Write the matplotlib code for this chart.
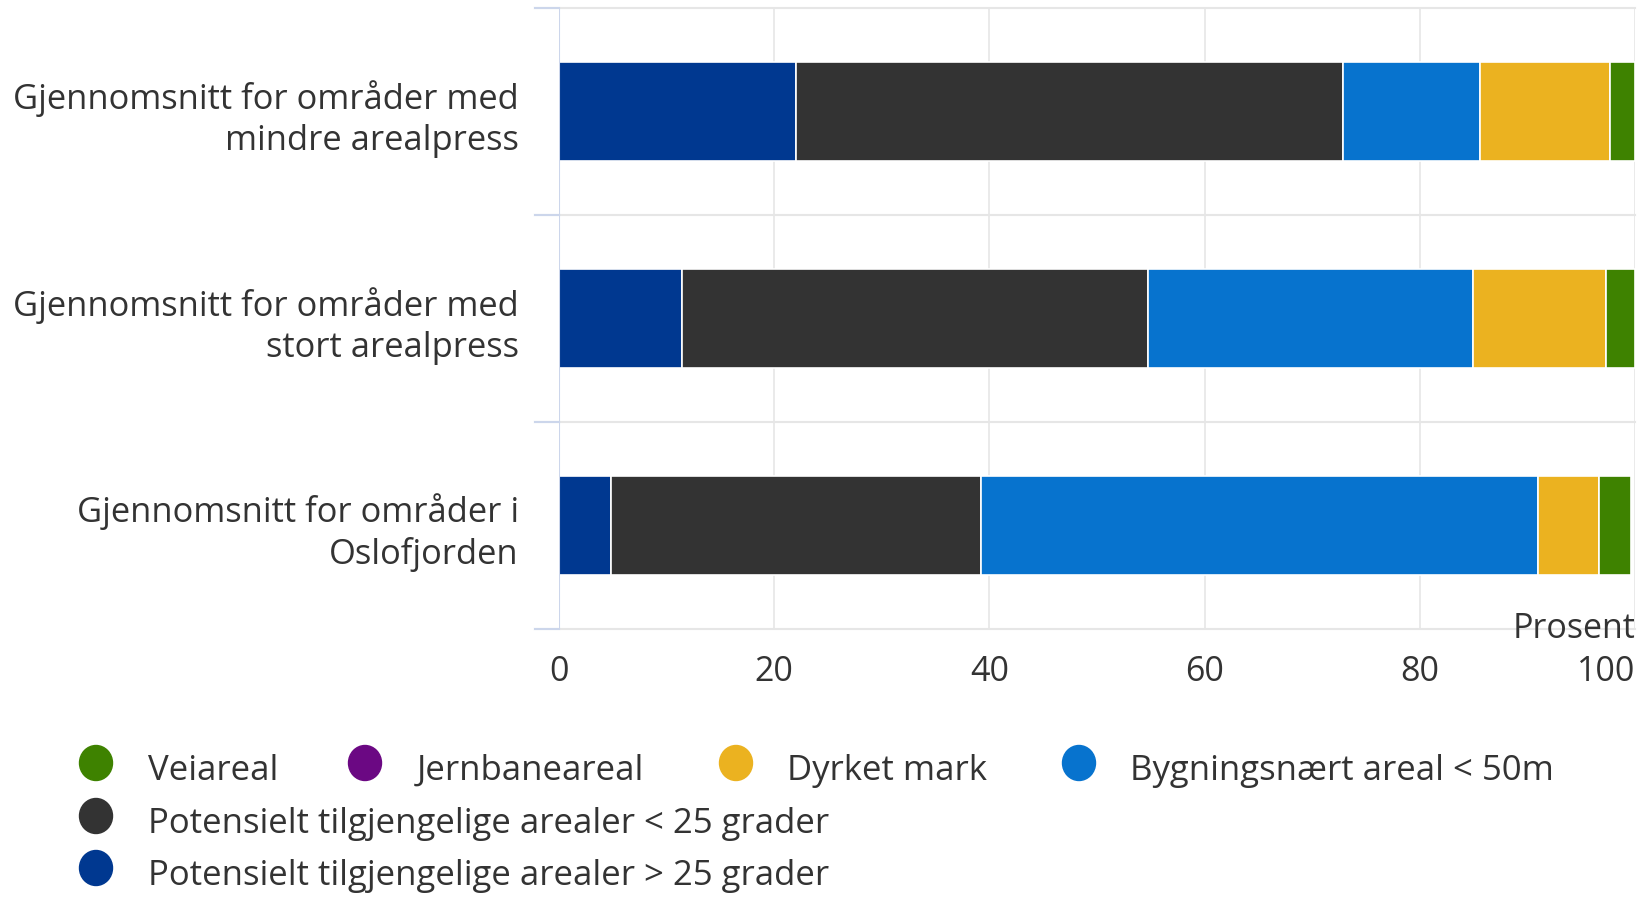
import numpy as np
import matplotlib
matplotlib.use("Agg")
import matplotlib.pyplot as plt
from matplotlib.patches import Ellipse

plt.rcParams['font.family'] = ['Open Sans', 'DejaVu Sans']

# data (prosent)
categories = [
    "Gjennomsnitt for områder med\nmindre arealpress",
    "Gjennomsnitt for områder med\nstort arealpress",
    "Gjennomsnitt for områder i\nOslofjorden",
]
pot_over_25 = [22.0, 11.4, 4.8]
pot_under_25 = [50.9, 43.3, 34.4]
bygningsnaert = [12.7, 30.2, 51.8]
dyrket_mark = [12.1, 12.4, 5.7]
jernbaneareal = [0.0, 0.0, 0.0]
veiareal = [2.3, 2.7, 2.9]

series = [
    ("Potensielt tilgjengelige arealer > 25 grader", pot_over_25, "#003890"),
    ("Potensielt tilgjengelige arealer < 25 grader", pot_under_25, "#333333"),
    ("Bygningsnært areal < 50m", bygningsnaert, "#0773ce"),
    ("Dyrket mark", dyrket_mark, "#ebb220"),
    ("Jernbaneareal", jernbaneareal, "#6b0883"),
    ("Veiareal", veiareal, "#3e8200"),
]
xticks = [0, 20, 40, 60, 80, 100]

W, H = 1641, 897
fig = plt.figure(figsize=(W / 100, H / 100), dpi=100)
ax = fig.add_axes([559 / W, 1 - 629 / H, (1635 - 559) / W, (629 - 8.4) / H])

y = np.arange(len(categories))
left = np.zeros(len(categories))
for name, vals, col in series:
    vals = np.array(vals)
    ax.barh(y, vals, left=left, height=0.48, color=col, edgecolor="white",
            linewidth=1.2, zorder=3)
    left += vals

ax.set_xlim(0, 100)
ax.set_ylim(len(categories) - 0.5, -0.5)
ax.set_xticks(xticks)
ax.set_xticklabels([str(t) for t in xticks])
ax.get_xticklabels()[-1].set_horizontalalignment("right")
ax.set_yticks(y)
ax.set_yticklabels(categories, ha="right", linespacing=1.25)
ax.tick_params(axis="y", length=0, pad=29, labelsize=24.8, labelcolor="#333333")
ax.tick_params(axis="x", length=0, pad=19, labelsize=24.5, labelcolor="#333333")

for s in ax.spines.values():
    s.set_visible(False)

# grid
for t in xticks[1:]:
    ax.axvline(t, color="#e6e6e6", linewidth=1.2, zorder=1)
ax.axvline(0, color="#ccd6eb", linewidth=1.5, zorder=4)
for b in np.arange(-0.5, len(categories), 1.0):
    ax.plot([-24 / 10.76, 100], [b, b], color="#e6e6e6", linewidth=1.5,
            zorder=1, clip_on=False)
    ax.plot([-24 / 10.76, 0], [b, b], color="#ccd6eb", linewidth=1.5,
            zorder=2, clip_on=False)

ax.text(1.0, 0.0, "Prosent", transform=ax.transAxes, ha="right", va="center",
        fontsize=24.5, color="#333333")

# legend, laid out like the original
rows = [771, 824, 876]
legend_items = [
    ("Veiareal", "#3e8200", 96, 148, 0),
    ("Jernbaneareal", "#6b0883", 365, 417, 0),
    ("Dyrket mark", "#ebb220", 736, 787, 0),
    ("Bygningsnært areal < 50m", "#0773ce", 1079, 1130, 0),
    ("Potensielt tilgjengelige arealer < 25 grader", "#333333", 96, 148, 1),
    ("Potensielt tilgjengelige arealer > 25 grader", "#003890", 96, 148, 2),
]
for label, col, mx, tx, r in legend_items:
    yy = 1 - rows[r] / H
    fig.add_artist(Ellipse((mx / W, yy + 8 / H), 33 / W, 35 / H,
                           transform=fig.transFigure, color=col))
    fig.text(tx / W, yy, label, fontsize=25, color="#333333",
             ha="left", va="center")

fig.savefig("out.png", dpi=100)
